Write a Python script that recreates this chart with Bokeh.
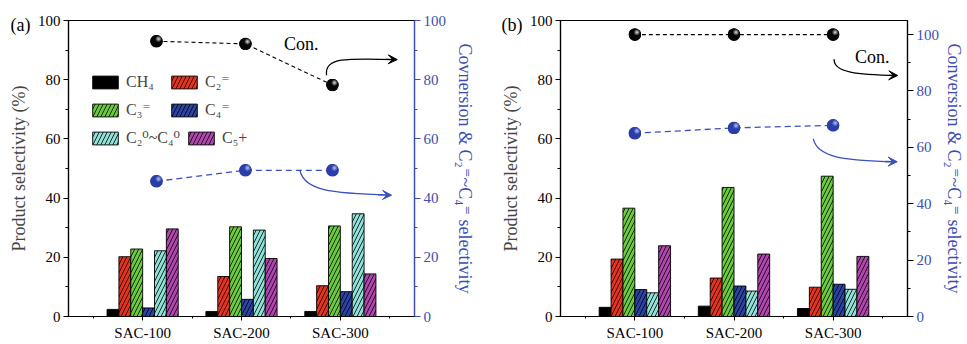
import base64
from bokeh.plotting import figure
from bokeh.layouts import row
from bokeh.models import (Range1d, LinearAxis, FixedTicker, SingleIntervalTicker, Legend,
                          LegendItem, Label, Arrow, VeeHead)
from bokeh.core.properties import value
from bokeh.embed import file_html
from bokeh.resources import INLINE

# ---------------- data ----------------
categories = ["SAC-100", "SAC-200", "SAC-300"]
series_names = ["CH\u2084", "C\u2082\u207c", "C\u2083\u207c", "C\u2084\u207c",
                "C\u2082\u2070~C\u2084\u2070", "C\u2085+"]

a_ch4 = [2.4, 1.7, 1.7]
a_c2 = [20.2, 13.5, 10.4]
a_c3 = [22.8, 30.3, 30.6]
a_c4 = [2.9, 5.8, 8.4]
a_paraffin = [22.2, 29.2, 34.7]
a_c5 = [29.6, 19.6, 14.4]
a_conv_x = [1.14, 2.04, 2.92]
a_conversion = [93.0, 92.1, 78.2]
a_olefin_sel = [45.7, 49.4, 49.4]

b_ch4 = [3.1, 3.5, 2.7]
b_c2 = [19.4, 13.0, 9.9]
b_c3 = [36.6, 43.6, 47.4]
b_c4 = [9.1, 10.3, 10.9]
b_paraffin = [8.0, 8.6, 9.2]
b_c5 = [23.9, 21.1, 20.3]
b_conv_x = [1.0, 2.0, 3.0]
b_conversion = [100.0, 100.0, 100.0]
b_olefin_sel = [65.0, 66.9, 67.8]

# ---------------- style ----------------
FONT = "'Liberation Serif', 'Times New Roman', 'DejaVu Serif', serif"
BLUE_AX = "#3b4db5"
colors = ["#000000", "#e8321f", "#6acb3e", "#2c43a6", "#8fe1d7", "#b244b0"]
hatches = [" ", "/", "/", "/", "/", "/"]
BAR_W = 0.12
FRAME_H = 297
# legend item slots: (px from frame left, px from frame top to item centre)
legend_slots = [(21, 63), (100, 63), (21, 91), (100, 91), (21, 119), (117, 119)]


def sphere_uri(base, light):
    svg = ('<svg xmlns="http://www.w3.org/2000/svg" width="40" height="40">'
           '<defs><radialGradient id="g" cx="0.66" cy="0.32" r="0.75">'
           f'<stop offset="0" stop-color="{light}"/>'
           f'<stop offset="0.35" stop-color="{base}"/>'
           f'<stop offset="1" stop-color="{base}"/>'
           '</radialGradient></defs>'
           '<circle cx="20" cy="20" r="19.5" fill="url(#g)"/></svg>')
    return "data:image/svg+xml;base64," + base64.b64encode(svg.encode()).decode()


BLACK_SPHERE = sphere_uri("#050505", "#e0e0e0")
BLUE_SPHERE = sphere_uri("#2b3ea8", "#b8c2ff")


def make_panel(vals, conv_x, conv, sel, right_end, width, border_left, border_right,
               panel_tag, tag_x, right_label, right_axis_line, ra_label_standoff,
               with_legend, annots):
    p = figure(width=width, height=344, output_backend="svg", toolbar_location=None,
               x_range=Range1d(0.25, 3.75), y_range=Range1d(0, 100),
               min_border_left=border_left, min_border_right=border_right,
               min_border_top=19, min_border_bottom=28)
    p.background_fill_color = "white"
    p.border_fill_color = "white"
    p.outline_line_color = "black"
    p.outline_line_width = 1.2
    p.xgrid.visible = False
    p.ygrid.visible = False
    p.extra_y_ranges = {"right": Range1d(0, right_end)}

    # left axis
    ya = p.yaxis[0]
    ya.ticker = SingleIntervalTicker(interval=20, num_minor_ticks=2)
    ya.axis_label = "Product selectivity (%)"
    # bottom axis
    xa = p.xaxis[0]
    xa.ticker = FixedTicker(ticks=[1, 2, 3], minor_ticks=[0.5, 1.5, 2.5, 3.5])
    xa.major_label_overrides = {i + 1: c for i, c in enumerate(categories)}
    for ax in (ya, xa):
        ax.axis_line_color = "black"
        ax.axis_line_width = 1.2
        ax.major_tick_line_color = "black"
        ax.minor_tick_line_color = "black"
        ax.major_tick_in = 0
        ax.minor_tick_in = 0
        ax.major_label_text_font = FONT
        ax.major_label_text_font_size = "15px"
        ax.major_label_text_color = "black"
        ax.axis_label_text_font = FONT
        ax.axis_label_text_font_size = "18px"
        ax.axis_label_text_font_style = "normal"
    ya.major_tick_out = 5
    ya.minor_tick_out = 3
    ya.major_label_standoff = 3
    ya.axis_label_standoff = 6
    xa.major_tick_out = 4
    xa.minor_tick_out = 2
    xa.major_label_standoff = 4

    # right axis
    ra = LinearAxis(y_range_name="right",
                    ticker=SingleIntervalTicker(interval=20, num_minor_ticks=2),
                    axis_label=right_label)
    ra.axis_line_color = right_axis_line
    ra.axis_line_width = 1.2
    ra.major_tick_line_color = right_axis_line
    ra.minor_tick_line_color = right_axis_line
    ra.major_tick_in = 0
    ra.minor_tick_in = 0
    ra.major_tick_out = 6
    ra.minor_tick_out = 3
    ra.major_label_standoff = 3
    ra.major_label_text_font = FONT
    ra.major_label_text_font_size = "15px"
    ra.major_label_text_color = BLUE_AX
    ra.axis_label_text_font = FONT
    ra.axis_label_text_font_size = "18px"
    ra.axis_label_text_font_style = "normal"
    ra.axis_label_text_color = BLUE_AX
    ra.axis_label_standoff = ra_label_standoff
    p.add_layout(ra, "right")

    # bars
    n = len(vals)
    renderers = []
    for k, (v, c, h) in enumerate(zip(vals, colors, hatches)):
        off = (k - (n - 1) / 2) * BAR_W
        xs = [i + 1 + off for i in range(len(categories))]
        r = p.vbar(x=xs, top=v, width=BAR_W, fill_color=c, line_color="black",
                   line_width=0.9, hatch_pattern=h, hatch_color="black",
                   hatch_weight=0.8, hatch_scale=8)
        renderers.append(r)

    # conversion / selectivity lines with spheres (right axis)
    p.line(conv_x, conv, y_range_name="right", line_color="black", line_width=1.1,
           line_dash="4 3")
    p.line(conv_x, sel, y_range_name="right", line_color="#3a4fc0", line_width=1.3,
           line_dash="6 4")
    for ys, base, uri in ((conv, "black", BLACK_SPHERE), (sel, "#2b3ea8", BLUE_SPHERE)):
        p.scatter(conv_x, ys, y_range_name="right", size=12, fill_color=base,
                  line_color=None)
        p.image_url(url=[uri] * len(conv_x), x=conv_x, y=ys, w=13, h=13,
                    w_units="screen", h_units="screen", anchor="center",
                    y_range_name="right")

    # annotations: "Con." text and curved arrows
    (con_x, con_y), arrows = annots
    p.text(x=[con_x], y=[con_y], text=["Con."], text_font=value(FONT),
           text_font_size="18px", text_baseline="middle", text_align="left",
           text_color="black", y_range_name="right")
    for (x0, y0, cx0, cy0, cx1, cy1, x1, y1, col) in arrows:
        p.bezier(x0=[x0], y0=[y0], cx0=[cx0], cy0=[cy0], cx1=[cx1], cy1=[cy1],
                 x1=[x1], y1=[y1], line_color=col, line_width=1.3, y_range_name="right")
        p.add_layout(Arrow(end=VeeHead(size=9, fill_color=col, line_color=col),
                           x_start=cx1 + (x1 - cx1) * 0.8, y_start=cy1 + (y1 - cy1) * 0.8,
                           x_end=x1 + (x1 - cx1) * 0.03, y_end=y1 + (y1 - cy1) * 0.03,
                           line_color=col, line_width=1.3, y_range_name="right"))

    # panel tag "(a)" / "(b)" placed in the top side panel
    p.add_layout(Label(x=tag_x, y=-4, x_units="screen", y_units="screen", text=panel_tag,
                       text_font=FONT, text_font_size="18px", text_baseline="middle",
                       text_color="black"), "above")

    if with_legend:
        for nm, r, (lx, cy) in zip(series_names, renderers, legend_slots):
            lg = Legend(items=[LegendItem(label=nm, renderers=[r])],
                        location=(lx, FRAME_H - cy - 9), orientation="vertical",
                        glyph_width=32, glyph_height=16, label_height=16,
                        label_standoff=5, spacing=0, padding=0, margin=0,
                        border_line_color=None, background_fill_alpha=0,
                        label_text_font=FONT, label_text_font_size="16px")
            p.add_layout(lg, "center")
    return p


annots_a = ((2.43, 91.9), [
    (2.86, 81.5, 2.84, 87.5, 3.05, 87.3, 3.56, 86.8, "black"),
    (2.59, 49.5, 2.63, 42.5, 2.9, 41.6, 3.5, 41.0, "#3a4fc0"),
])
annots_b = ((3.22, 91.9), [
    (3.01, 91.3, 3.0, 86.5, 3.25, 85.8, 3.64, 85.5, "black"),
    (2.80, 63.0, 2.84, 56.5, 3.1, 55.3, 3.63, 54.9, "#3a4fc0"),
])

pa = make_panel([a_ch4, a_c2, a_c3, a_c4, a_paraffin, a_c5], a_conv_x, a_conversion,
                a_olefin_sel, 100, 478, 68, 58, "(a)", -58,
                "Covnersion & C\u2082\u207c~C\u2084\u207c selectivity", BLUE_AX, 6,
                True, annots_a)
pb = make_panel([b_ch4, b_c2, b_c3, b_c4, b_paraffin, b_c5], b_conv_x, b_conversion,
                b_olefin_sel, 105, 489, 82, 55, "(b)", -59,
                "Conversion & C\u2082\u207c~C\u2084\u207c selectivity", "black", 2,
                False, annots_b)

layout = row(pa, pb)
open("out.html", "w").write(file_html(layout, INLINE))
